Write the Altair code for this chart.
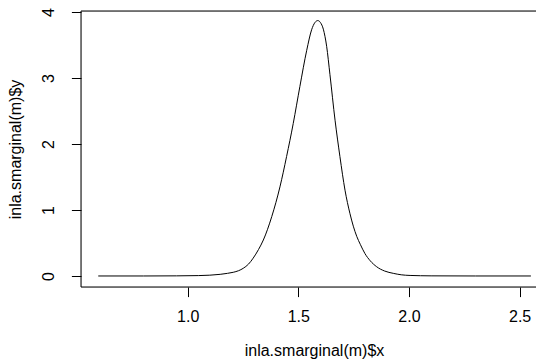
import altair as alt
import pandas as pd

# Values
xs = [0.596, 0.80, 0.95, 1.05, 1.10, 1.147, 1.18, 1.206, 1.23, 1.251,
      1.275, 1.296, 1.32, 1.342, 1.380, 1.417, 1.447, 1.477, 1.507, 1.538,
      1.560, 1.575, 1.588, 1.600, 1.613, 1.628, 1.643, 1.666, 1.688, 1.711,
      1.733, 1.764, 1.78, 1.801, 1.825, 1.854, 1.89, 1.929, 1.965, 2.005,
      2.10, 2.30, 2.551]
ys = [0.0, 0.0, 0.002, 0.006, 0.012, 0.025, 0.040, 0.056, 0.080, 0.116,
      0.18, 0.27, 0.40, 0.545, 0.90, 1.35, 1.81, 2.31, 2.87, 3.42,
      3.73, 3.84, 3.87, 3.84, 3.74, 3.48, 3.05, 2.36, 1.81, 1.30,
      0.95, 0.60, 0.48, 0.34, 0.23, 0.14, 0.075, 0.04, 0.018, 0.008,
      0.002, 0.0, 0.0]
x_ticks = [1.0, 1.5, 2.0, 2.5]
y_ticks = [0, 1, 2, 3, 4]

W, H = 455, 276
PX_PER_X = 221.3
X0 = 0.518
FONT = "Liberation Sans"

df = pd.DataFrame({"x": xs, "y": ys})
one = pd.DataFrame({"a": [0]})

xscale = alt.Scale(domain=[X0, X0 + W / PX_PER_X], nice=False, zero=False)
yscale = alt.Scale(domain=[-0.167, 4.015], nice=False, zero=False)

line = alt.Chart(df).mark_line(color="black", strokeWidth=1, interpolate="monotone").encode(
    x=alt.X("x:Q", scale=xscale,
            axis=alt.Axis(title="inla.smarginal(m)$x", values=x_ticks, format=".1f",
                          domain=False, grid=False, tickColor="black", tickSize=9.6,
                          tickWidth=1, labelFont=FONT, labelFontSize=16, labelColor="black",
                          labelBaseline="alphabetic", labelPadding=25, labelFlush=False,
                          titleFont=FONT, titleFontSize=16, titleFontWeight="normal",
                          titleColor="black", titleBaseline="alphabetic",
                          titleY=68.5, titleX=233)),
    y=alt.Y("y:Q", scale=yscale,
            axis=alt.Axis(title="inla.smarginal(m)$y", values=y_ticks, format="d",
                          domain=False, grid=False, tickColor="black", tickSize=9.6,
                          tickWidth=1, labelFont=FONT, labelFontSize=16, labelColor="black",
                          labelAngle=-90, labelAlign="center", labelBaseline="alphabetic",
                          labelPadding=18, labelFlush=False,
                          titleFont=FONT, titleFontSize=16, titleFontWeight="normal",
                          titleColor="black", titleBaseline="alphabetic", titleAngle=-90,
                          titleAlign="center", titleX=-60.5, titleY=H / 2)),
)

left = alt.Chart(one).mark_rule(color="black", strokeWidth=1).encode(
    x=alt.value(0), y=alt.value(0), y2=alt.value(H))
top = alt.Chart(one).mark_rule(color="black", strokeWidth=1).encode(
    x=alt.value(0), x2=alt.value(W + 5), y=alt.value(0))
bottom = alt.Chart(one).mark_rule(color="black", strokeWidth=1).encode(
    x=alt.value(0), x2=alt.value(W + 5), y=alt.value(H))

chart = alt.layer(line, left, top, bottom).properties(
    width=W, height=H,
    autosize=alt.AutoSizeParams(type="none"),
    padding={"left": 73, "top": 3, "right": 0, "bottom": 73},
).configure_view(stroke=None).configure(background="white")

chart.save("out.html", embed_options={"renderer": "svg", "actions": False})
